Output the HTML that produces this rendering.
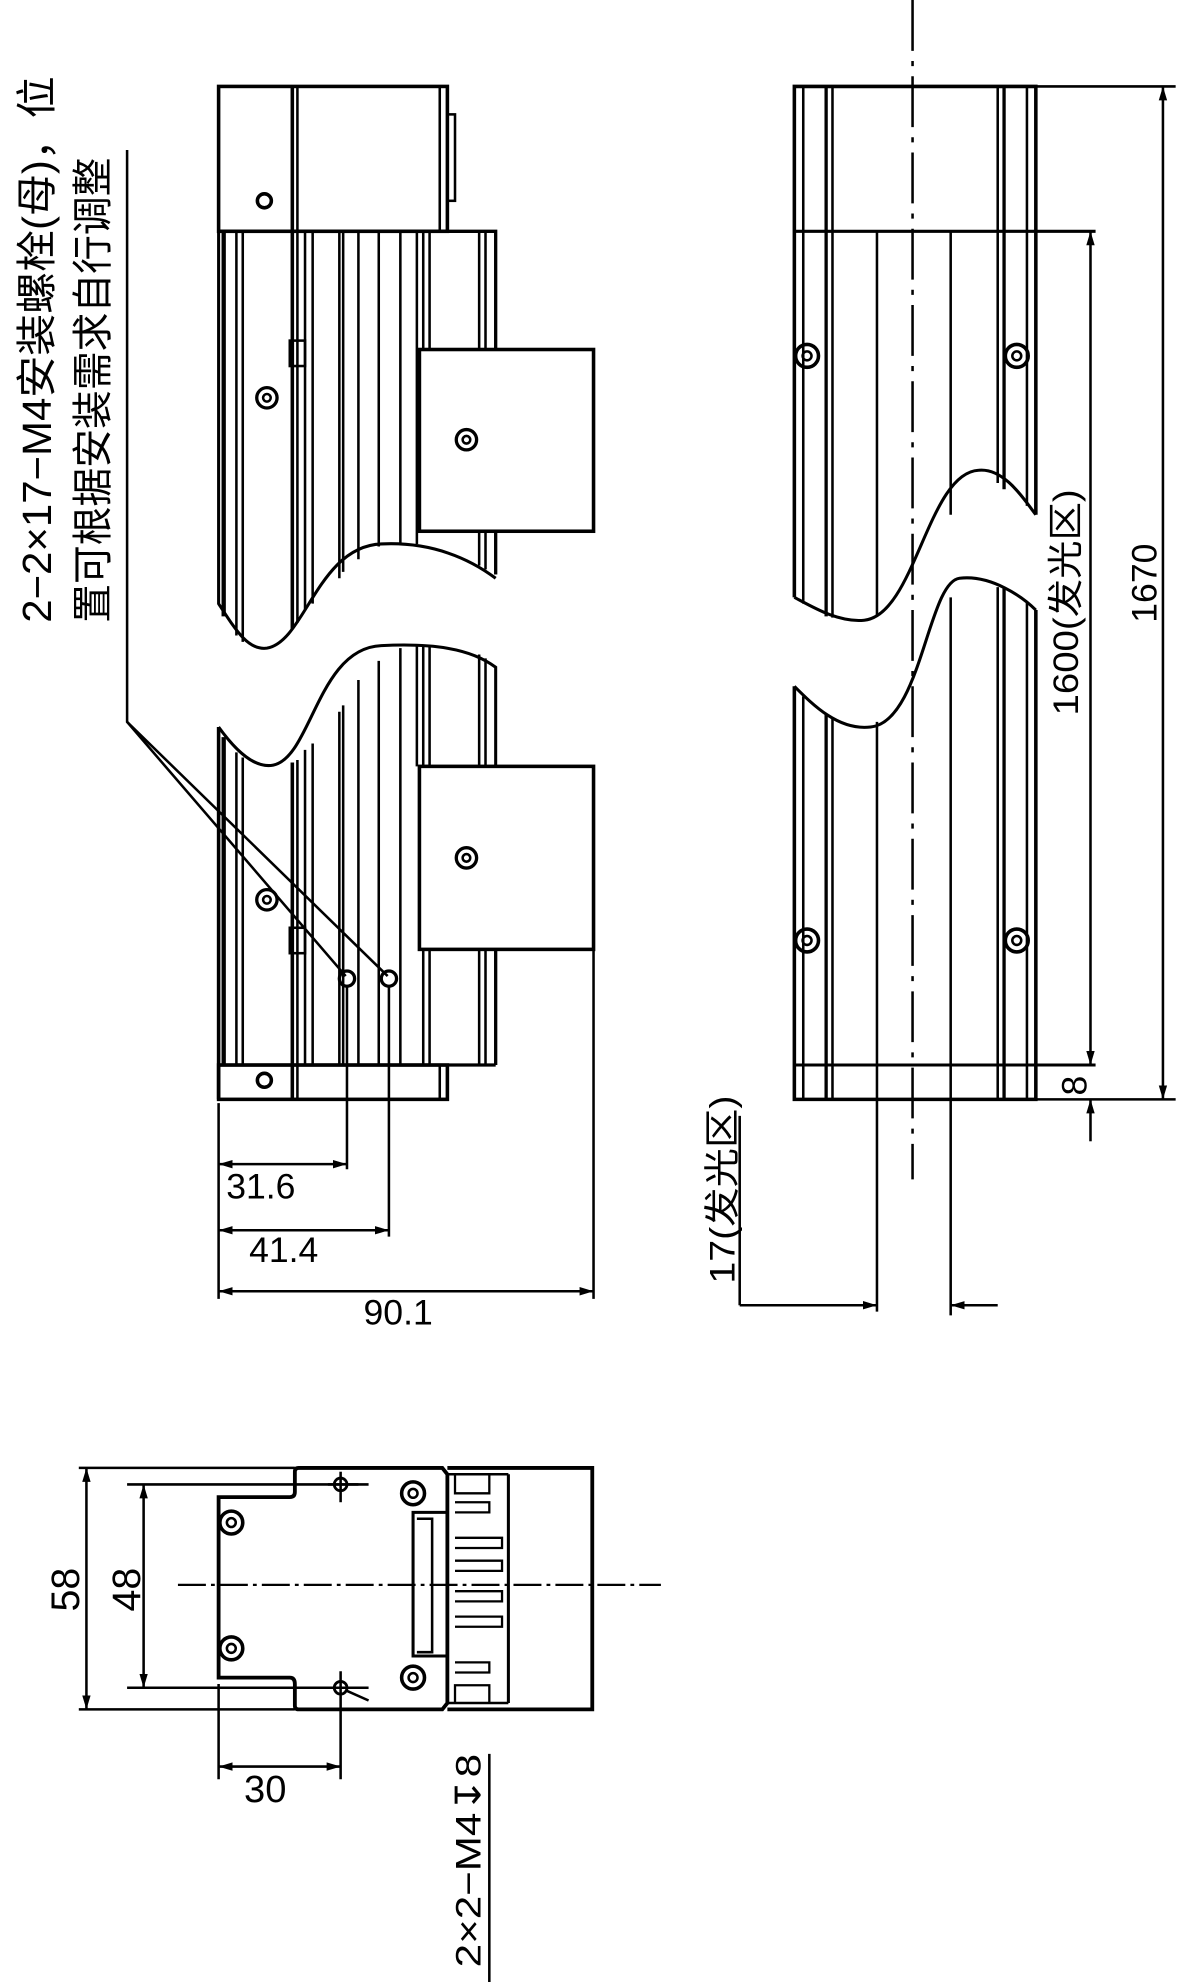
<!DOCTYPE html>
<html><head><meta charset="utf-8"><style>
html,body{margin:0;padding:0;background:#fff;}
svg{display:block;}
text{font-family:"Liberation Sans","Noto Sans CJK SC",sans-serif;fill:#000;}
</style></head><body>
<svg width="1182" height="1982" viewBox="0 0 930 1559.5" preserveAspectRatio="none" xmlns="http://www.w3.org/2000/svg">
<defs>
<marker id="a" viewBox="0 0 10 10" refX="10" refY="5" markerWidth="11" markerHeight="11" markerUnits="userSpaceOnUse" orient="auto-start-reverse"><path d="M0,2 L10,5 L0,8 Z" fill="#000"/></marker>
</defs>
<g fill="none" stroke="#000" stroke-width="2">
<!-- ===== side view ===== -->
<rect x="172" y="68" width="180" height="114" stroke-width="2.8"/>
<line x1="230" y1="68" x2="230" y2="182" stroke-width="2.8"/><line x1="234" y1="68" x2="234" y2="182"/>
<line x1="346" y1="68" x2="346" y2="182"/>
<rect x="352" y="90" width="6" height="68"/>
<circle cx="208" cy="158" r="5.5" stroke-width="2.8"/>
<!-- body top piece -->
<path d="M172,182 H390 V275" stroke-width="2.6"/>
<line x1="390" y1="418" x2="390" y2="452" stroke-width="2.6"/>
<path d="M172,182 V475 C185,495 195,512 210,510 C240,505 250,430 300,428 C340,426 370,440 390,455" stroke-width="2.4"/>
<g>
<line x1="176" y1="182" x2="176" y2="485" stroke-width="3.4"/>
<line x1="186" y1="182" x2="186" y2="500"/><line x1="191" y1="182" x2="191" y2="505"/>
<line x1="230" y1="182" x2="230" y2="495" stroke-width="2.8"/><line x1="234" y1="182" x2="234" y2="490"/>
<line x1="240" y1="182" x2="240" y2="480"/><line x1="246" y1="182" x2="246" y2="475"/>
<line x1="267" y1="182" x2="267" y2="455"/><line x1="270" y1="182" x2="270" y2="450"/>
<line x1="282" y1="182" x2="282" y2="440"/><line x1="298" y1="182" x2="298" y2="430"/>
<line x1="315" y1="182" x2="315" y2="428"/><line x1="328" y1="182" x2="328" y2="428"/>
<line x1="333" y1="182" x2="333" y2="275"/><line x1="338" y1="182" x2="338" y2="275"/>
<line x1="377" y1="182" x2="377" y2="275"/><line x1="382" y1="182" x2="382" y2="275"/>
<line x1="377" y1="418" x2="377" y2="445"/><line x1="382" y1="418" x2="382" y2="448"/>
</g>
<rect x="330" y="275" width="137" height="143" stroke-width="2.8"/>
<circle cx="367" cy="346" r="8" stroke-width="2.6"/><circle cx="367" cy="346" r="3"/>
<rect x="228" y="268" width="12" height="20"/>
<circle cx="210" cy="313" r="8" stroke-width="2.6"/><circle cx="210" cy="313" r="3"/>
<!-- body bottom piece -->
<path d="M172,572 C185,590 200,605 215,602 C245,596 250,510 300,508 C340,506 370,510 390,525 V603" stroke-width="2.4"/>
<line x1="390" y1="747" x2="390" y2="838" stroke-width="2.6"/>
<line x1="172" y1="572" x2="172" y2="865" stroke-width="2.8"/>
<g>
<line x1="176" y1="580" x2="176" y2="838" stroke-width="3.4"/>
<line x1="186" y1="592" x2="186" y2="838"/><line x1="191" y1="596" x2="191" y2="838"/>
<line x1="230" y1="600" x2="230" y2="865" stroke-width="2.8"/><line x1="234" y1="598" x2="234" y2="865"/>
<line x1="240" y1="590" x2="240" y2="838"/><line x1="246" y1="585" x2="246" y2="838"/>
<line x1="267" y1="560" x2="267" y2="838"/><line x1="270" y1="555" x2="270" y2="838"/>
<line x1="282" y1="535" x2="282" y2="838"/><line x1="298" y1="520" x2="298" y2="838"/>
<line x1="315" y1="510" x2="315" y2="838"/><line x1="328" y1="508" x2="328" y2="603"/>
<line x1="333" y1="508" x2="333" y2="603"/><line x1="338" y1="508" x2="338" y2="603"/>
<line x1="377" y1="515" x2="377" y2="603"/><line x1="382" y1="518" x2="382" y2="603"/>
<line x1="333" y1="747" x2="333" y2="838"/><line x1="338" y1="747" x2="338" y2="838"/>
<line x1="377" y1="747" x2="377" y2="838"/><line x1="382" y1="747" x2="382" y2="838"/>
</g>
<rect x="330" y="603" width="137" height="144" stroke-width="2.8"/>
<circle cx="367" cy="675" r="8" stroke-width="2.6"/><circle cx="367" cy="675" r="3"/>
<rect x="228" y="730" width="12" height="20"/>
<circle cx="210" cy="708" r="8" stroke-width="2.6"/><circle cx="210" cy="708" r="3"/>
<circle cx="273" cy="770" r="6" stroke-width="2.6"/><circle cx="306" cy="770" r="6" stroke-width="2.6"/>
<line x1="172" y1="838" x2="390" y2="838" stroke-width="2.6"/>
<rect x="172" y="838" width="180" height="27" stroke-width="2.8"/>
<line x1="346" y1="838" x2="346" y2="865"/>
<circle cx="208" cy="850" r="5.5" stroke-width="2.8"/>
<!-- leader -->
<polyline points="100,118 100,568 272,768"/>
<line x1="100" y1="568" x2="305" y2="768"/>
<!-- dims side -->
<line x1="172" y1="868" x2="172" y2="1022"/>
<line x1="273" y1="776" x2="273" y2="920"/>
<line x1="306" y1="776" x2="306" y2="973"/>
<line x1="467" y1="747" x2="467" y2="1022"/>
<line x1="172" y1="916" x2="273" y2="916" marker-start="url(#a)" marker-end="url(#a)"/>
<line x1="172" y1="968" x2="306" y2="968" marker-start="url(#a)" marker-end="url(#a)"/>
<line x1="172" y1="1016" x2="467" y2="1016" marker-start="url(#a)" marker-end="url(#a)"/>

<!-- ===== top view ===== -->
<path d="M625,470 V68 H815 V405" stroke-width="2.8"/>
<path d="M625,470 C640,478 660,490 680,488 C720,484 730,372 770,370 C790,368 805,392 815,405" stroke-width="2.4"/>
<line x1="632" y1="68" x2="632" y2="475"/><line x1="650" y1="68" x2="650" y2="485" stroke-width="2.6"/><line x1="655" y1="68" x2="655" y2="486"/>
<line x1="785" y1="68" x2="785" y2="380"/><line x1="790" y1="68" x2="790" y2="385" stroke-width="2.6"/><line x1="808" y1="68" x2="808" y2="398"/>
<line x1="625" y1="182" x2="862" y2="182" stroke-width="2.4"/>
<line x1="690" y1="182" x2="690" y2="485"/><line x1="748" y1="182" x2="748" y2="405"/>
<path d="M625,540 C640,555 660,575 685,572 C725,568 730,458 755,455 C780,452 805,470 815,480" stroke-width="2.4"/>
<path d="M625,540 V865 H815 V480" stroke-width="2.8"/>
<line x1="632" y1="548" x2="632" y2="865"/><line x1="650" y1="562" x2="650" y2="865" stroke-width="2.6"/><line x1="655" y1="565" x2="655" y2="865"/>
<line x1="785" y1="462" x2="785" y2="865"/><line x1="790" y1="463" x2="790" y2="865" stroke-width="2.6"/><line x1="808" y1="474" x2="808" y2="865"/>
<line x1="625" y1="838" x2="862" y2="838" stroke-width="2.4"/>
<line x1="690" y1="568" x2="690" y2="1032"/><line x1="748" y1="470" x2="748" y2="1035"/>
<line x1="718" y1="0" x2="718" y2="928" stroke-dasharray="40,8,4,8" stroke-width="2"/>
<circle cx="635" cy="280" r="9" stroke-width="2.8"/><circle cx="635" cy="280" r="3.5"/>
<circle cx="800" cy="280" r="9" stroke-width="2.8"/><circle cx="800" cy="280" r="3.5"/>
<circle cx="635" cy="740" r="9" stroke-width="2.8"/><circle cx="635" cy="740" r="3.5"/>
<circle cx="800" cy="740" r="9" stroke-width="2.8"/><circle cx="800" cy="740" r="3.5"/>
<!-- dims right -->
<line x1="815" y1="68" x2="925" y2="68"/>
<line x1="815" y1="865" x2="925" y2="865"/>
<line x1="915" y1="68" x2="915" y2="865" marker-start="url(#a)" marker-end="url(#a)"/>
<line x1="858" y1="182" x2="858" y2="838" marker-start="url(#a)" marker-end="url(#a)"/>
<line x1="858" y1="898" x2="858" y2="865" marker-end="url(#a)"/>
<line x1="582" y1="878" x2="582" y2="1027"/>
<line x1="582" y1="1027" x2="690" y2="1027" marker-end="url(#a)"/>
<line x1="785" y1="1027" x2="748" y2="1027" marker-end="url(#a)"/>

<!-- ===== end view ===== -->
<line x1="62" y1="1155" x2="232" y2="1155"/><line x1="62" y1="1345" x2="232" y2="1345"/>
<line x1="68" y1="1155" x2="68" y2="1345" marker-start="url(#a)" marker-end="url(#a)"/>
<line x1="100" y1="1168" x2="290" y2="1168"/><line x1="100" y1="1328" x2="290" y2="1328"/>
<line x1="113" y1="1168" x2="113" y2="1328" marker-start="url(#a)" marker-end="url(#a)"/>
<path d="M235,1155 H348 L352,1160 V1340 L348,1345 H235 Q232,1345 232,1342 V1325 Q232,1320 228,1320 H172 V1178 H228 Q232,1178 232,1174 V1158 Q232,1155 235,1155 Z" stroke-width="3"/>
<path d="M352,1155 H466 V1345 H352" stroke-width="3"/>
<line x1="400" y1="1160" x2="400" y2="1340" stroke-width="2.4"/>
<line x1="352" y1="1160" x2="400" y2="1160"/>
<line x1="352" y1="1340" x2="400" y2="1340"/>
<path d="M352,1190 H325 V1303 H352" stroke-width="2.4"/>
<path d="M328,1195 H340 V1300 H328"/>
<g stroke-width="1.8">
<path d="M358,1160 V1175 H385 V1160"/>
<path d="M358,1182 H385 V1190 H358"/>
<path d="M358,1210 H395 V1218 H358"/>
<path d="M358,1228 H395 V1236 H358"/>
<path d="M358,1252 H395 V1260 H358"/>
<path d="M358,1272 H395 V1280 H358"/>
<path d="M358,1308 H385 V1316 H358"/>
<path d="M358,1340 V1326 H385 V1340"/>
</g>
<circle cx="182" cy="1198" r="9" stroke-width="2.8"/><circle cx="182" cy="1198" r="3.5"/>
<circle cx="182" cy="1297" r="9" stroke-width="2.8"/><circle cx="182" cy="1297" r="3.5"/>
<circle cx="325" cy="1175" r="9" stroke-width="2.8"/><circle cx="325" cy="1175" r="3.5"/>
<circle cx="325" cy="1320" r="9" stroke-width="2.8"/><circle cx="325" cy="1320" r="3.5"/>
<circle cx="268" cy="1168" r="5" stroke-width="2.2"/><line x1="268" y1="1158" x2="268" y2="1182"/><line x1="258" y1="1168" x2="282" y2="1168"/>
<circle cx="268" cy="1328" r="5" stroke-width="2.2"/><line x1="268" y1="1315" x2="268" y2="1400"/><line x1="272" y1="1330" x2="290" y2="1338"/>
<line x1="140" y1="1247" x2="520" y2="1247" stroke-dasharray="22,4,3,4" stroke-width="1.8"/>
<line x1="172" y1="1325" x2="172" y2="1400"/>
<line x1="172" y1="1390" x2="268" y2="1390" marker-start="url(#a)" marker-end="url(#a)"/>
<line x1="385" y1="1380" x2="385" y2="1562" stroke-width="2"/>
</g>
<!-- texts -->
<g font-size="28">
<text transform="translate(40,490) rotate(-90)" font-size="32" textLength="430" lengthAdjust="spacingAndGlyphs">2−2×17−M4安装螺栓(母)，位</text>
<text transform="translate(84,490) rotate(-90)" font-size="32" textLength="366" lengthAdjust="spacingAndGlyphs">置可根据安装需求自行调整</text>
<text x="178" y="943">31.6</text>
<text x="196" y="993">41.4</text>
<text x="286" y="1042">90.1</text>
<text transform="translate(848,563) rotate(-90)" textLength="178" lengthAdjust="spacingAndGlyphs">1600(发光区)</text>
<text transform="translate(910,490) rotate(-90)">1670</text>
<text transform="translate(855,862) rotate(-90)">8</text>
<text transform="translate(578,1010) rotate(-90)" textLength="148" lengthAdjust="spacingAndGlyphs">17(发光区)</text>
<text transform="translate(62,1268) rotate(-90)" font-size="31">58</text>
<text transform="translate(110,1268) rotate(-90)" font-size="31">48</text>
<text x="192" y="1418" font-size="30">30</text>
<text transform="translate(378,1548) rotate(-90)" font-size="28" textLength="168" lengthAdjust="spacingAndGlyphs">2×2−M4↧8</text>
</g>
</svg>
</body></html>
